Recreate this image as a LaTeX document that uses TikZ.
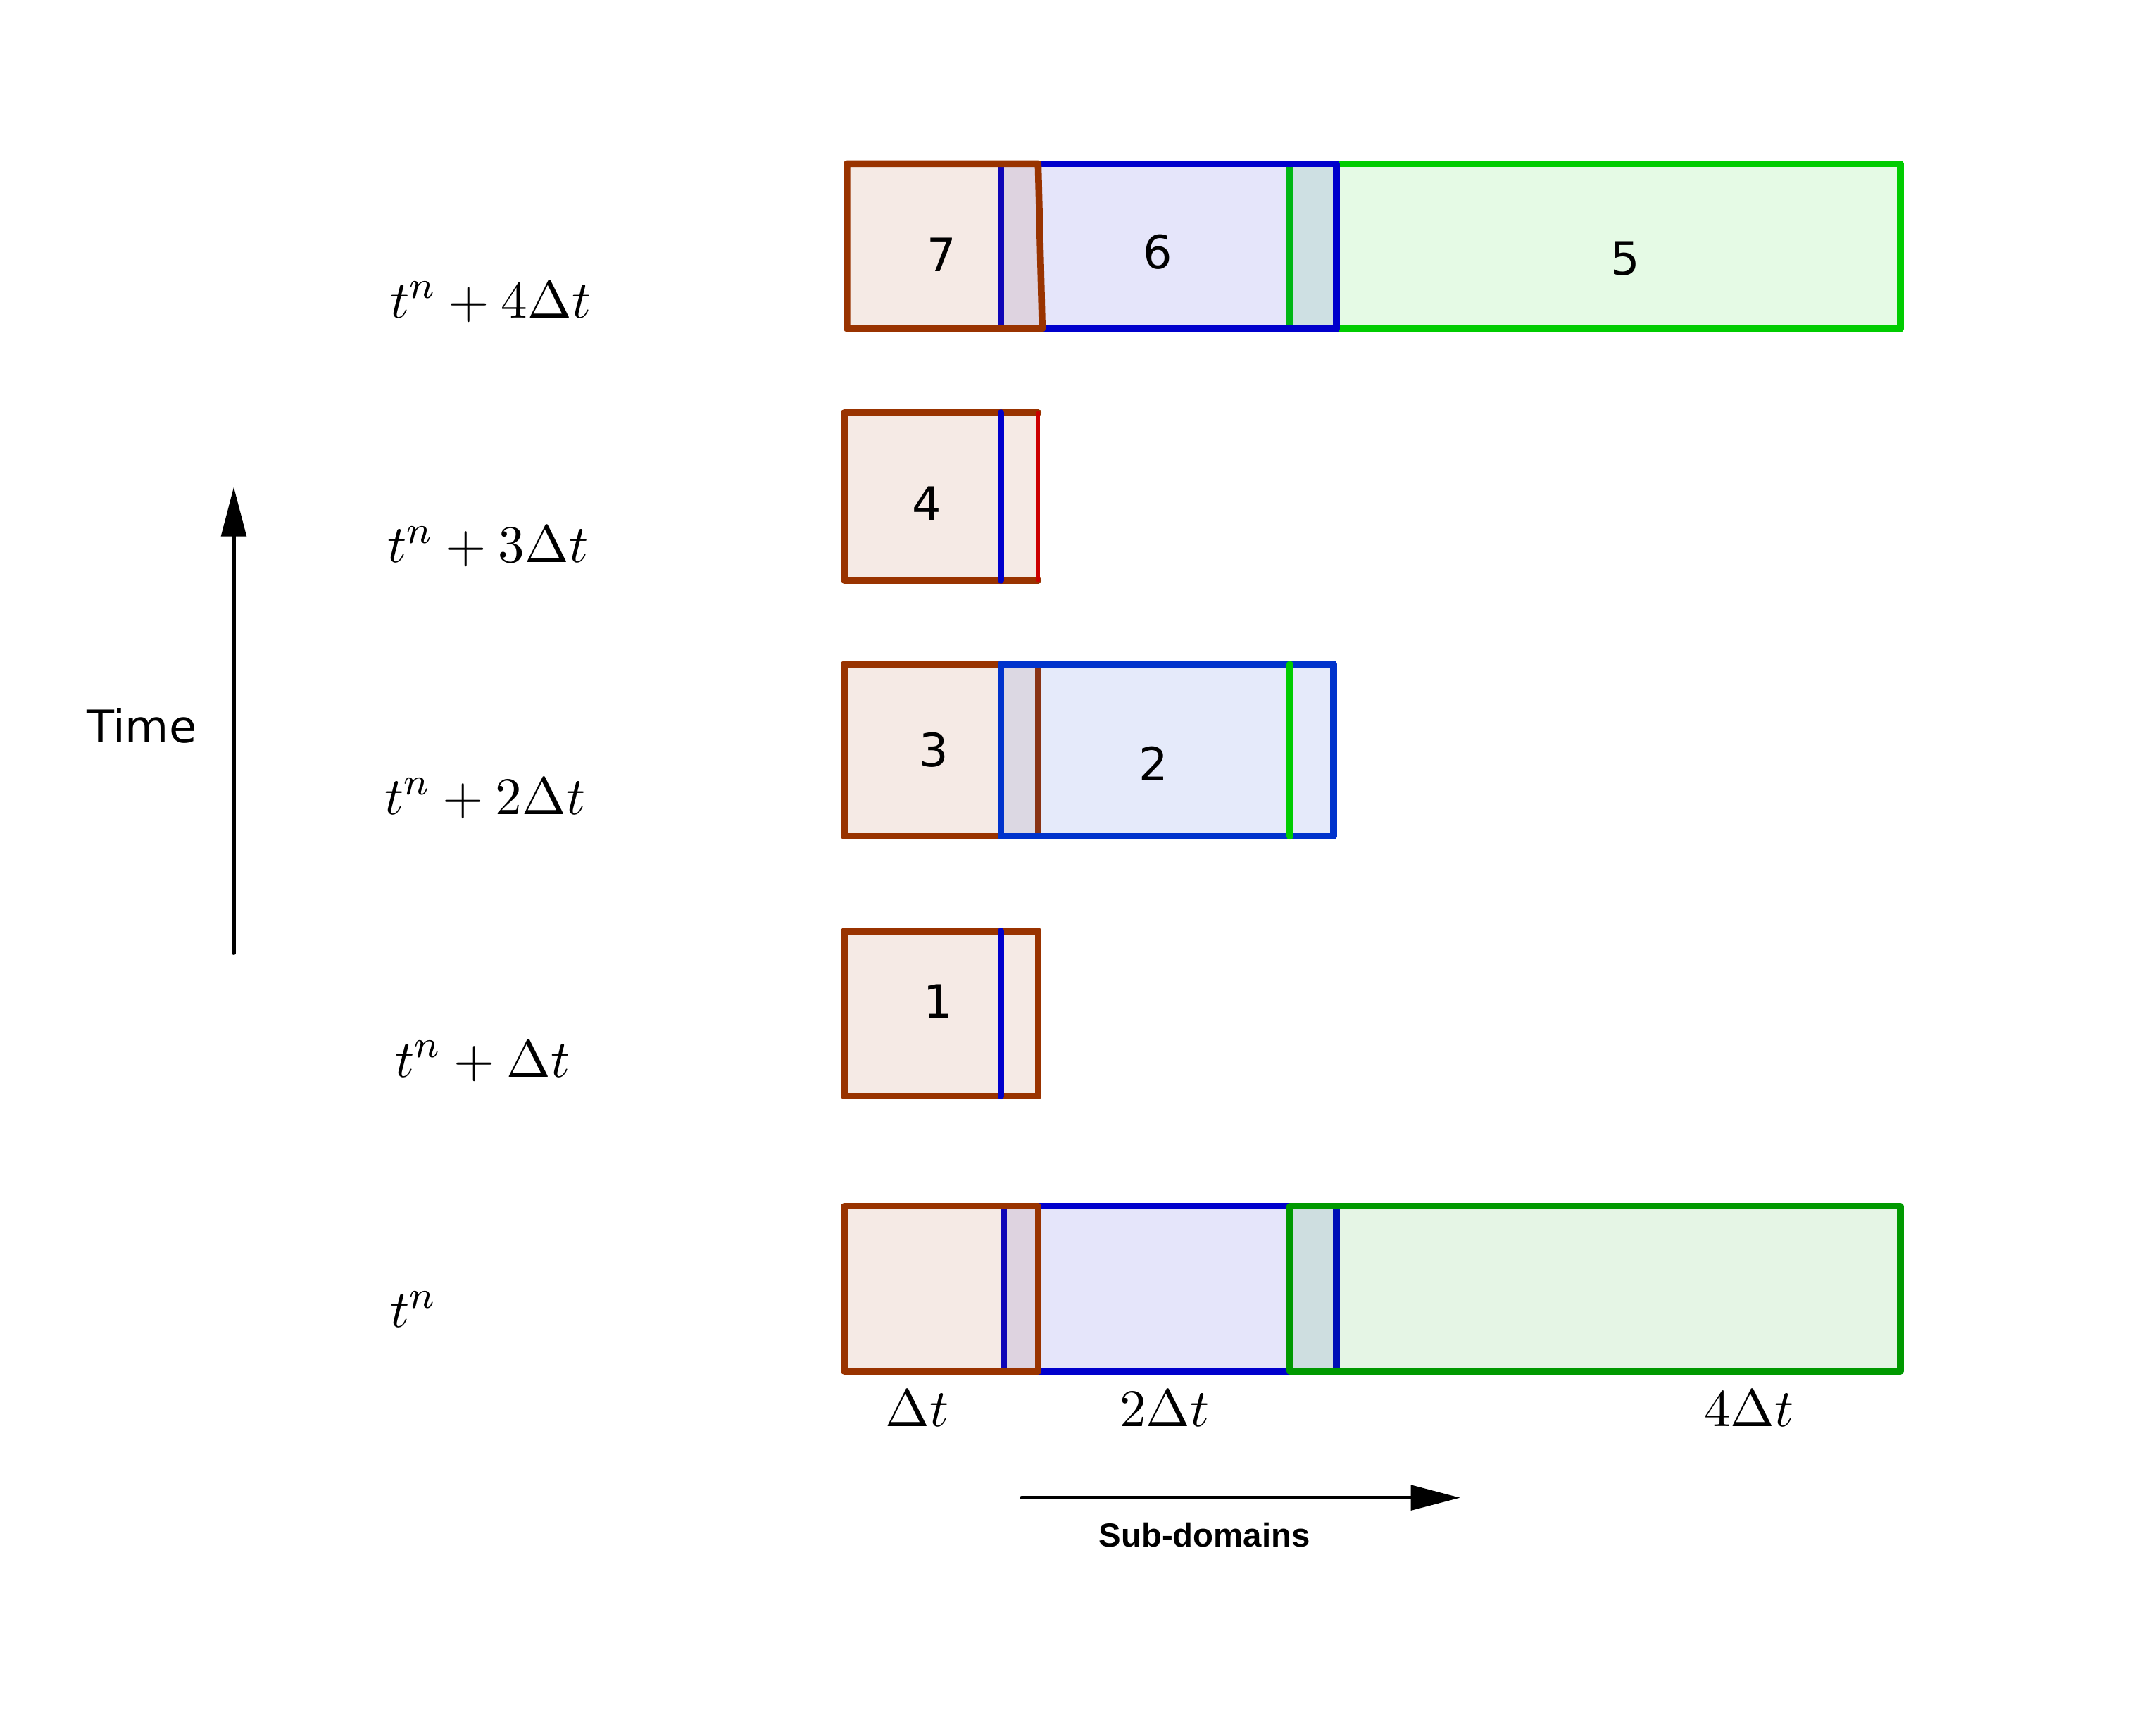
\documentclass[tikz,border=0pt]{standalone}
\usepackage{fontspec}
\setsansfont{DejaVu Sans}
\newfontfamily\arrowlabelfont{Liberation Sans}
\usetikzlibrary{arrows.meta, positioning}
\definecolor{edgeBrown}{HTML}{993300}
\definecolor{edgeBlue}{HTML}{0000CC}
\definecolor{edgeBlueB}{HTML}{0033CC}
\definecolor{edgeGreen}{HTML}{00CC00}
\definecolor{edgeGreenD}{HTML}{009900}
\definecolor{edgeRed}{HTML}{CC0000}
\tikzset{
    domBox/.style={draw=#1, fill=#1, fill opacity=0.1, line width=1.4pt, line join=round, line cap=round},
    domLine/.style={draw=#1, line width=1.4pt, line cap=round, line join=round},
    stepLabel/.style={font=\fontsize{11.2}{13}\selectfont, anchor=base west, inner sep=0pt},
    sizeLabel/.style={font=\fontsize{11.2}{13}\selectfont, anchor=base, inner sep=0pt},
    domNum/.style={font=\sffamily\fontsize{9.5}{11}\selectfont, inner sep=0pt},
    axisArrow/.style={-{Triangle[length=3.6mm, width=1.8mm]}, line width=0.75pt, line cap=round}
}

\begin{document}
\begin{tikzpicture}[x=0.1mm, y=-0.1mm]
        \useasboundingbox (0,0) rectangle (1568,1262);

        % --- ROW t^n + 4 dt ---
        \draw[domBox=edgeGreen] (938,119) rectangle (1382,239);
        \draw[domBox=edgeBlue] (728,119) rectangle (972,239);
        \draw[domBox=edgeBrown] (616,119) -- (755,119) -- (758,239) -- (616,239) -- cycle;

        % --- ROW t^n + 3 dt ---
        \fill[edgeBrown, fill opacity=0.1] (614,300) rectangle (755,422);
        \draw[domLine=edgeBrown] (755,300) -- (614,300) -- (614,422) -- (755,422);
        \draw[domLine=edgeBlue] (728,300) -- (728,422);
        \draw[domLine=edgeRed, line width=0.8pt] (755,300) -- (755,422);

        % --- ROW t^n + 2 dt ---
        \draw[domBox=edgeBrown] (614,483) rectangle (755,608);
        \draw[domBox=edgeBlueB] (728,483) rectangle (970,608);
        \draw[domLine=edgeGreen] (938,483) -- (938,608);

        % --- ROW t^n + dt ---
        \draw[domBox=edgeBrown] (614,677) rectangle (755,797);
        \draw[domLine=edgeBlue] (728,677) -- (728,797);

        % --- ROW t^n ---
        \draw[domBox=edgeBlue] (730,877) rectangle (972,997);
        \draw[domBox=edgeBrown] (614,877) rectangle (755,997);
        \draw[domBox=edgeGreenD] (938,877) rectangle (1382,997);

        % Sub-domain numbers
        \foreach \k/\px/\py in {7/685/185, 6/842/183, 5/1182/188, 4/674/366, 3/679/545, 2/839/555, 1/682/728}
            \node[domNum] (num\k) at (\px,\py) {\k};

        % Time levels
        \foreach \nm/\xs/\yb/\lbl in {lvlD/283/231/{t^n+4\Delta t}, lvlC/281/409/{t^n+3\Delta t},
                                      lvlB/279/592/{t^n+2\Delta t}, lvlA/287/783/{t^n+\Delta t}, lvlO/283/965/{t^n}}
            \node[stepLabel] (\nm) at (\xs,\yb) {$\lbl$};

        % Step sizes below the bottom row
        \foreach \nm/\px/\lbl in {sizeA/667/{\Delta t}, sizeB/847/{2\Delta t}, sizeC/1272/{4\Delta t}}
            \node[sizeLabel] (\nm) at (\px,1037) {$\lbl$};

        % --- AXES ---
        \coordinate (timeFoot) at (170,693);
        \coordinate (timeTip) at (170,354);
        \draw[axisArrow] (timeFoot) -- (timeTip);
        \node[font=\sffamily\fontsize{9.3}{11}\selectfont, inner sep=0pt] (timeLbl) at (103,528) {Time};

        \coordinate (subFoot) at (743,1089);
        \coordinate (subTip) at (1062,1089);
        \draw[axisArrow] (subFoot) -- (subTip);
        \node[font=\arrowlabelfont\bfseries\fontsize{6.9}{8}\selectfont, inner sep=0pt] (subLbl) at (876,1116) {Sub-domains};

    \end{tikzpicture}
\end{document}
